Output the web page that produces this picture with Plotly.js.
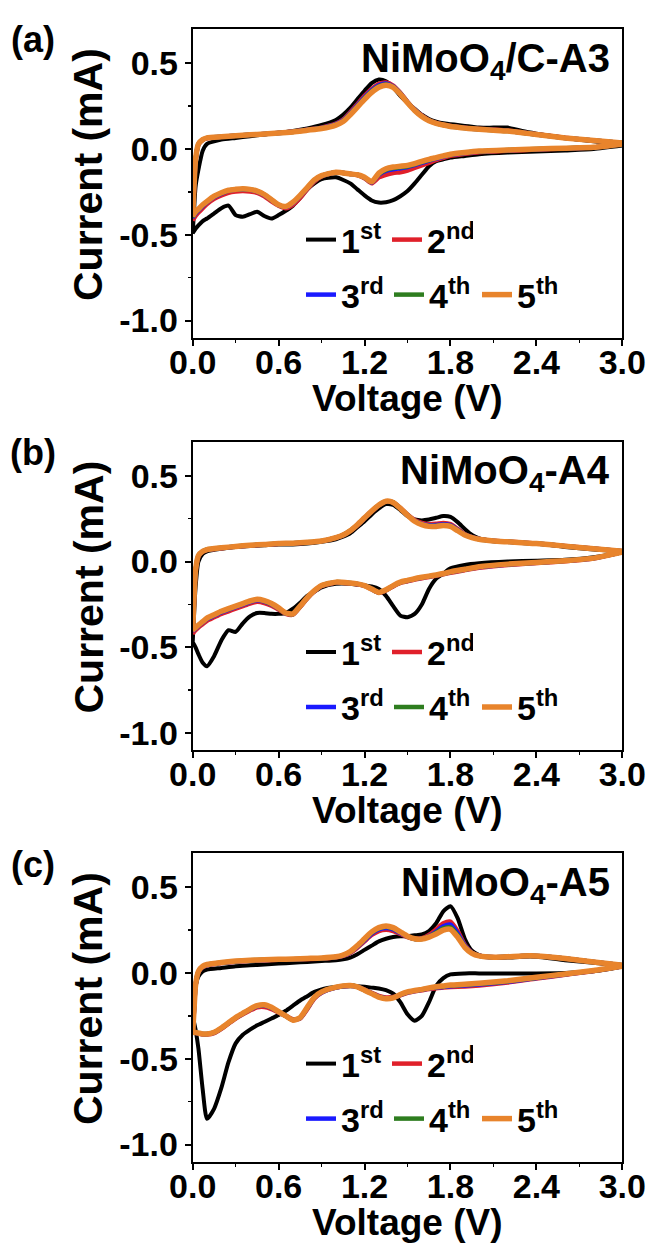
<!DOCTYPE html>
<html>
<head>
<meta charset="utf-8">
<script src="https://cdn.plot.ly/plotly-3.0.1.min.js"></script>
<style>html,body{margin:0;padding:0;background:#fff;}#chart{width:651px;height:1245px;}</style>
</head>
<body>
<div id="chart"></div>
<script>
// ---------- DATA ----------
// Voltage grids (V): cathodic sweep 3.0 -> 0 and anodic sweep 0 -> 3.0
const VC = [3.0, 2.8, 2.6, 2.4, 2.2, 2.0, 1.9, 1.8, 1.75, 1.7, 1.65, 1.6, 1.55, 1.5, 1.45, 1.4, 1.35, 1.3, 1.25, 1.2, 1.15, 1.1, 1.0, 0.9, 0.85, 0.8, 0.75, 0.7, 0.65, 0.6, 0.55, 0.5, 0.45, 0.4, 0.35, 0.3, 0.25, 0.2, 0.15, 0.1, 0.07, 0.04, 0.02, 0.0];
const VA = [0.0, 0.01, 0.02, 0.04, 0.07, 0.1, 0.2, 0.3, 0.4, 0.5, 0.6, 0.7, 0.8, 0.9, 1.0, 1.05, 1.1, 1.15, 1.2, 1.25, 1.3, 1.35, 1.4, 1.45, 1.5, 1.55, 1.6, 1.65, 1.7, 1.75, 1.8, 1.85, 1.9, 1.95, 2.0, 2.1, 2.2, 2.3, 2.4, 2.6, 2.8, 3.0];

// Panel (a) NiMoO4/C-A3 — current (mA)
const A1c = [0.02, 0.0, -0.008, -0.015, -0.02, -0.03, -0.04, -0.05, -0.06, -0.07, -0.1, -0.15, -0.2, -0.245, -0.275, -0.298, -0.31, -0.312, -0.3, -0.27, -0.235, -0.2, -0.165, -0.175, -0.2, -0.235, -0.285, -0.33, -0.36, -0.385, -0.405, -0.39, -0.365, -0.38, -0.395, -0.385, -0.33, -0.345, -0.375, -0.405, -0.42, -0.445, -0.465, -0.49];
const A2c = [0.03, 0.01, 0.003, -0.003, -0.01, -0.018, -0.028, -0.04, -0.052, -0.065, -0.08, -0.095, -0.11, -0.125, -0.135, -0.14, -0.15, -0.165, -0.2, -0.17, -0.152, -0.145, -0.135, -0.16, -0.19, -0.235, -0.285, -0.325, -0.345, -0.33, -0.305, -0.275, -0.255, -0.248, -0.245, -0.248, -0.255, -0.27, -0.29, -0.32, -0.345, -0.37, -0.39, -0.415];
const A3c = [0.03, 0.01, 0.004, -0.001, -0.007, -0.014, -0.023, -0.034, -0.045, -0.056, -0.068, -0.08, -0.093, -0.105, -0.112, -0.118, -0.128, -0.15, -0.195, -0.167, -0.15, -0.145, -0.135, -0.157, -0.183, -0.228, -0.275, -0.315, -0.338, -0.327, -0.298, -0.268, -0.248, -0.238, -0.235, -0.238, -0.244, -0.26, -0.28, -0.31, -0.332, -0.357, -0.375, -0.4];
const A4c = [0.03, 0.01, 0.005, 0.0, -0.006, -0.013, -0.021, -0.032, -0.042, -0.053, -0.064, -0.076, -0.089, -0.1, -0.106, -0.111, -0.121, -0.145, -0.192, -0.166, -0.15, -0.145, -0.135, -0.156, -0.181, -0.226, -0.272, -0.312, -0.336, -0.326, -0.296, -0.266, -0.246, -0.236, -0.233, -0.236, -0.242, -0.257, -0.277, -0.307, -0.328, -0.353, -0.37, -0.395];
const A5c = [0.03, 0.01, 0.005, 0.0, -0.005, -0.012, -0.02, -0.03, -0.04, -0.05, -0.06, -0.072, -0.085, -0.095, -0.1, -0.105, -0.115, -0.14, -0.19, -0.165, -0.15, -0.145, -0.135, -0.155, -0.18, -0.225, -0.27, -0.31, -0.335, -0.325, -0.295, -0.265, -0.245, -0.235, -0.232, -0.235, -0.24, -0.255, -0.275, -0.305, -0.325, -0.35, -0.365, -0.39];
const A1a = [-0.49, -0.35, -0.22, -0.12, -0.01, 0.03, 0.055, 0.065, 0.075, 0.085, 0.095, 0.105, 0.12, 0.14, 0.17, 0.2, 0.24, 0.29, 0.34, 0.385, 0.405, 0.395, 0.36, 0.31, 0.27, 0.235, 0.2, 0.175, 0.16, 0.15, 0.145, 0.14, 0.135, 0.13, 0.125, 0.125, 0.125, 0.105, 0.09, 0.065, 0.045, 0.025];
const A2a = [-0.415, -0.22, -0.07, 0.025, 0.053, 0.063, 0.071, 0.077, 0.083, 0.088, 0.094, 0.102, 0.113, 0.125, 0.148, 0.172, 0.215, 0.262, 0.31, 0.35, 0.38, 0.388, 0.37, 0.328, 0.275, 0.23, 0.195, 0.168, 0.152, 0.142, 0.134, 0.129, 0.124, 0.12, 0.117, 0.113, 0.108, 0.097, 0.086, 0.066, 0.05, 0.035];
const A3a = [-0.4, -0.21, -0.065, 0.028, 0.054, 0.064, 0.071, 0.077, 0.083, 0.088, 0.093, 0.101, 0.112, 0.123, 0.145, 0.167, 0.208, 0.255, 0.302, 0.343, 0.372, 0.382, 0.366, 0.325, 0.273, 0.228, 0.193, 0.167, 0.151, 0.141, 0.133, 0.128, 0.123, 0.119, 0.116, 0.111, 0.106, 0.096, 0.085, 0.065, 0.05, 0.035];
const A4a = [-0.395, -0.205, -0.062, 0.029, 0.055, 0.065, 0.072, 0.078, 0.083, 0.088, 0.093, 0.1, 0.111, 0.121, 0.142, 0.163, 0.204, 0.25, 0.296, 0.337, 0.366, 0.377, 0.363, 0.322, 0.271, 0.226, 0.191, 0.166, 0.15, 0.14, 0.132, 0.127, 0.122, 0.118, 0.115, 0.11, 0.105, 0.095, 0.085, 0.065, 0.05, 0.035];
const A5a = [-0.39, -0.2, -0.06, 0.03, 0.055, 0.065, 0.072, 0.078, 0.083, 0.088, 0.093, 0.1, 0.11, 0.12, 0.14, 0.16, 0.2, 0.245, 0.29, 0.33, 0.36, 0.372, 0.36, 0.32, 0.27, 0.225, 0.19, 0.165, 0.15, 0.14, 0.132, 0.127, 0.122, 0.118, 0.115, 0.11, 0.105, 0.095, 0.085, 0.065, 0.05, 0.035];

// Panel (b) NiMoO4-A4
const B1c = [0.055, 0.025, 0.01, 0.005, 0.0, -0.01, -0.02, -0.04, -0.07, -0.1, -0.16, -0.25, -0.305, -0.325, -0.315, -0.26, -0.2, -0.16, -0.145, -0.14, -0.135, -0.13, -0.13, -0.15, -0.175, -0.2, -0.24, -0.275, -0.3, -0.305, -0.305, -0.3, -0.3, -0.32, -0.36, -0.41, -0.4, -0.46, -0.55, -0.61, -0.59, -0.54, -0.5, -0.47];
const B2c = [0.055, 0.018, 0.002, -0.009, -0.02, -0.036, -0.05, -0.065, -0.075, -0.083, -0.09, -0.097, -0.105, -0.115, -0.125, -0.145, -0.168, -0.182, -0.162, -0.142, -0.132, -0.127, -0.122, -0.143, -0.174, -0.215, -0.265, -0.31, -0.305, -0.28, -0.258, -0.242, -0.235, -0.245, -0.26, -0.275, -0.29, -0.305, -0.325, -0.345, -0.365, -0.385, -0.4, -0.42];
const B3c = [0.055, 0.019, 0.004, -0.007, -0.017, -0.033, -0.047, -0.062, -0.072, -0.08, -0.087, -0.094, -0.102, -0.112, -0.122, -0.142, -0.166, -0.181, -0.161, -0.141, -0.131, -0.126, -0.121, -0.141, -0.172, -0.212, -0.262, -0.307, -0.302, -0.274, -0.25, -0.233, -0.226, -0.236, -0.251, -0.266, -0.281, -0.296, -0.316, -0.336, -0.356, -0.376, -0.391, -0.408];
const B4c = [0.055, 0.02, 0.005, -0.006, -0.016, -0.031, -0.046, -0.061, -0.071, -0.079, -0.086, -0.093, -0.101, -0.111, -0.121, -0.141, -0.165, -0.18, -0.16, -0.14, -0.13, -0.125, -0.12, -0.14, -0.171, -0.211, -0.261, -0.306, -0.301, -0.272, -0.247, -0.23, -0.222, -0.232, -0.247, -0.262, -0.277, -0.292, -0.312, -0.332, -0.352, -0.372, -0.387, -0.403];
const B5c = [0.055, 0.02, 0.005, -0.005, -0.015, -0.03, -0.045, -0.06, -0.07, -0.078, -0.085, -0.092, -0.1, -0.11, -0.12, -0.14, -0.165, -0.18, -0.16, -0.14, -0.13, -0.125, -0.12, -0.14, -0.17, -0.21, -0.26, -0.305, -0.3, -0.27, -0.245, -0.228, -0.22, -0.23, -0.245, -0.26, -0.275, -0.29, -0.31, -0.33, -0.35, -0.37, -0.385, -0.4];
const B1a = [-0.47, -0.3, -0.15, 0.0, 0.045, 0.06, 0.075, 0.085, 0.09, 0.095, 0.1, 0.1, 0.105, 0.115, 0.13, 0.145, 0.165, 0.2, 0.235, 0.275, 0.31, 0.335, 0.33, 0.3, 0.265, 0.245, 0.24, 0.245, 0.255, 0.265, 0.26, 0.23, 0.19, 0.155, 0.135, 0.12, 0.115, 0.11, 0.105, 0.085, 0.07, 0.055];
const B2a = [-0.42, -0.22, -0.06, 0.03, 0.058, 0.068, 0.078, 0.087, 0.094, 0.099, 0.104, 0.106, 0.111, 0.119, 0.138, 0.153, 0.178, 0.212, 0.252, 0.292, 0.327, 0.35, 0.344, 0.312, 0.274, 0.242, 0.225, 0.218, 0.22, 0.225, 0.218, 0.19, 0.16, 0.143, 0.132, 0.121, 0.116, 0.111, 0.106, 0.091, 0.076, 0.06];
const B3a = [-0.41, -0.21, -0.055, 0.032, 0.059, 0.069, 0.079, 0.087, 0.094, 0.099, 0.104, 0.106, 0.111, 0.119, 0.139, 0.154, 0.179, 0.213, 0.253, 0.293, 0.328, 0.351, 0.344, 0.311, 0.272, 0.239, 0.22, 0.212, 0.213, 0.218, 0.212, 0.186, 0.158, 0.142, 0.131, 0.12, 0.115, 0.11, 0.105, 0.09, 0.075, 0.06];
const B4a = [-0.405, -0.205, -0.052, 0.034, 0.06, 0.07, 0.08, 0.088, 0.095, 0.1, 0.105, 0.107, 0.112, 0.12, 0.14, 0.155, 0.18, 0.214, 0.254, 0.294, 0.329, 0.352, 0.345, 0.31, 0.271, 0.237, 0.217, 0.208, 0.208, 0.213, 0.208, 0.183, 0.156, 0.141, 0.13, 0.12, 0.115, 0.11, 0.105, 0.09, 0.075, 0.06];
const B5a = [-0.4, -0.2, -0.05, 0.035, 0.06, 0.07, 0.08, 0.088, 0.095, 0.1, 0.105, 0.107, 0.112, 0.12, 0.14, 0.155, 0.18, 0.215, 0.255, 0.295, 0.33, 0.352, 0.345, 0.31, 0.27, 0.235, 0.215, 0.205, 0.205, 0.21, 0.205, 0.18, 0.155, 0.14, 0.13, 0.12, 0.115, 0.11, 0.105, 0.09, 0.075, 0.06];

// Panel (c) NiMoO4-A5
const C1c = [0.04, 0.01, 0.0, -0.002, -0.002, -0.002, -0.002, -0.008, -0.03, -0.075, -0.17, -0.25, -0.278, -0.24, -0.17, -0.12, -0.1, -0.09, -0.085, -0.08, -0.077, -0.077, -0.082, -0.095, -0.11, -0.135, -0.16, -0.19, -0.22, -0.245, -0.265, -0.285, -0.305, -0.33, -0.36, -0.41, -0.52, -0.67, -0.79, -0.85, -0.68, -0.44, -0.33, -0.25];
const C2c = [0.04, 0.012, -0.01, -0.032, -0.055, -0.072, -0.078, -0.082, -0.085, -0.088, -0.093, -0.1, -0.107, -0.115, -0.13, -0.14, -0.142, -0.133, -0.115, -0.097, -0.08, -0.074, -0.085, -0.115, -0.148, -0.21, -0.265, -0.27, -0.25, -0.23, -0.21, -0.198, -0.2, -0.218, -0.24, -0.265, -0.295, -0.325, -0.35, -0.358, -0.358, -0.352, -0.349, -0.347];
const C3c = [0.04, 0.013, -0.008, -0.029, -0.051, -0.067, -0.072, -0.077, -0.081, -0.085, -0.09, -0.098, -0.105, -0.113, -0.128, -0.143, -0.147, -0.137, -0.118, -0.099, -0.08, -0.074, -0.084, -0.113, -0.144, -0.205, -0.263, -0.273, -0.25, -0.227, -0.204, -0.19, -0.194, -0.213, -0.237, -0.262, -0.292, -0.322, -0.347, -0.356, -0.356, -0.351, -0.348, -0.346];
const C4c = [0.04, 0.014, -0.006, -0.027, -0.048, -0.063, -0.068, -0.073, -0.078, -0.082, -0.088, -0.096, -0.103, -0.111, -0.126, -0.144, -0.149, -0.139, -0.119, -0.1, -0.08, -0.073, -0.083, -0.111, -0.142, -0.202, -0.261, -0.274, -0.25, -0.226, -0.202, -0.187, -0.192, -0.211, -0.236, -0.261, -0.291, -0.321, -0.346, -0.355, -0.355, -0.35, -0.347, -0.345];
const C5c = [0.04, 0.015, -0.005, -0.025, -0.045, -0.06, -0.065, -0.07, -0.075, -0.08, -0.087, -0.095, -0.102, -0.11, -0.125, -0.145, -0.15, -0.14, -0.12, -0.1, -0.08, -0.073, -0.082, -0.11, -0.14, -0.2, -0.26, -0.275, -0.25, -0.225, -0.2, -0.185, -0.19, -0.21, -0.235, -0.26, -0.29, -0.32, -0.345, -0.355, -0.355, -0.35, -0.347, -0.345];
const C1a = [-0.25, -0.16, -0.08, -0.02, 0.01, 0.02, 0.03, 0.04, 0.045, 0.05, 0.055, 0.06, 0.065, 0.07, 0.075, 0.08, 0.09, 0.11, 0.135, 0.16, 0.185, 0.2, 0.21, 0.215, 0.215, 0.22, 0.225, 0.245, 0.29, 0.36, 0.39, 0.32, 0.2, 0.13, 0.105, 0.09, 0.09, 0.095, 0.095, 0.075, 0.06, 0.04];
const C2a = [-0.347, -0.21, -0.075, 0.005, 0.035, 0.045, 0.058, 0.066, 0.071, 0.074, 0.077, 0.079, 0.082, 0.085, 0.092, 0.1, 0.117, 0.148, 0.185, 0.222, 0.245, 0.252, 0.245, 0.228, 0.21, 0.2, 0.203, 0.222, 0.255, 0.29, 0.3, 0.245, 0.165, 0.12, 0.102, 0.093, 0.095, 0.1, 0.1, 0.085, 0.065, 0.045];
const C3a = [-0.346, -0.205, -0.072, 0.007, 0.037, 0.047, 0.06, 0.068, 0.073, 0.076, 0.078, 0.08, 0.083, 0.086, 0.093, 0.102, 0.12, 0.153, 0.191, 0.23, 0.254, 0.263, 0.255, 0.233, 0.212, 0.199, 0.2, 0.215, 0.242, 0.272, 0.282, 0.232, 0.16, 0.118, 0.101, 0.092, 0.095, 0.1, 0.1, 0.085, 0.065, 0.045];
const C4a = [-0.345, -0.2, -0.07, 0.009, 0.039, 0.049, 0.061, 0.069, 0.074, 0.077, 0.079, 0.081, 0.084, 0.087, 0.094, 0.104, 0.123, 0.157, 0.196, 0.235, 0.26, 0.27, 0.26, 0.237, 0.213, 0.199, 0.199, 0.212, 0.235, 0.26, 0.266, 0.22, 0.155, 0.116, 0.1, 0.092, 0.095, 0.1, 0.1, 0.085, 0.065, 0.045];
const C5a = [-0.345, -0.2, -0.07, 0.01, 0.04, 0.05, 0.062, 0.07, 0.075, 0.078, 0.08, 0.082, 0.085, 0.088, 0.095, 0.105, 0.125, 0.16, 0.2, 0.24, 0.265, 0.275, 0.265, 0.24, 0.215, 0.2, 0.198, 0.21, 0.228, 0.25, 0.255, 0.21, 0.15, 0.115, 0.1, 0.092, 0.095, 0.1, 0.1, 0.085, 0.065, 0.045];

const cycleNames = ['1<sup>st</sup>', '2<sup>nd</sup>', '3<sup>rd</sup>', '4<sup>th</sup>', '5<sup>th</sup>'];
const cycleColors = ['#000000', '#e0202a', '#1a1aff', '#2e7d1f', '#e8842c'];
const panelLetters = ['(a)', '(b)', '(c)'];
const sampleNames = ['NiMoO<sub>4</sub>/C-A3', 'NiMoO<sub>4</sub>-A4', 'NiMoO<sub>4</sub>-A5'];
const xTickVals = [0, 0.6, 1.2, 1.8, 2.4, 3.0];
const xTickText = ['0.0', '0.6', '1.2', '1.8', '2.4', '3.0'];
const yTickVals = [0.5, 0.0, -0.5, -1.0];
const yTickText = ['0.5', '0.0', '-0.5', '-1.0'];
const xTitle = 'Voltage (V)';
const yTitle = 'Current (mA)';

const panelCath = [[A1c, A2c, A3c, A4c, A5c], [B1c, B2c, B3c, B4c, B5c], [C1c, C2c, C3c, C4c, C5c]];
const panelAnod = [[A1a, A2a, A3a, A4a, A5a], [B1a, B2a, B3a, B4a, B5a], [C1a, C2a, C3a, C4a, C5a]];

// ---------- LAYOUT GEOMETRY (pixels) ----------
const W = 651, H = 1245;
const plotLeft = 192.7, plotRight = 622.3;
const panelTops = [29, 441.5, 853];
const plotH = 308.7;
const FONT = 'Liberation Sans, Arial, sans-serif';
const px2x = p => p / W;
const py2y = p => 1 - p / H;

const traces = [];
const layout = {
  width: W, height: H,
  margin: {l: 0, r: 0, t: 0, b: 0},
  paper_bgcolor: '#ffffff', plot_bgcolor: '#ffffff',
  font: {family: FONT, color: '#000', weight: 'bold'},
  annotations: [],
  showlegend: true
};
const lineWidths = [4, 4.5, 4.5, 4.5, 5.5];

for (let p = 0; p < 3; p++) {
  const sfx = p === 0 ? '' : String(p + 1);
  const top = panelTops[p];
  const dom = [py2y(top + plotH), py2y(top)];
  const legA = p === 0 ? 'legend' : 'legend' + (2 * p + 1);
  const legB = 'legend' + (2 * p + 2);
  for (let c = 0; c < 5; c++) {
    traces.push({
      type: 'scatter', mode: 'lines',
      x: VC.concat(VA), y: panelCath[p][c].concat(panelAnod[p][c]),
      xaxis: 'x' + sfx, yaxis: 'y' + sfx,
      name: cycleNames[c],
      legend: c < 2 ? legA : legB,
      line: {color: cycleColors[c], width: lineWidths[c], shape: 'spline', smoothing: 0.6},
      hoverinfo: 'skip'
    });
  }
  const axCommon = {
    showline: true, linecolor: '#000', linewidth: 2, mirror: true,
    ticks: 'outside', ticklen: 6, tickwidth: 2, tickcolor: '#000',
    showgrid: false, zeroline: false, fixedrange: true,
    tickfont: {family: FONT, size: 34, color: '#000', weight: 'bold'}
  };
  layout['xaxis' + sfx] = Object.assign({}, axCommon, {
    domain: [px2x(plotLeft), px2x(plotRight)], anchor: 'y' + sfx, range: [0, 3],
    tickmode: 'array', tickvals: xTickVals, ticktext: xTickText, ticklabelstandoff: -13,
    minor: {tickmode: 'linear', tick0: 0, dtick: 0.3, ticks: 'outside', ticklen: 3, tickwidth: 1.5, tickcolor: '#000'}
  });
  layout['yaxis' + sfx] = Object.assign({}, axCommon, {
    domain: dom, anchor: 'x' + sfx, range: [-1.1, 0.7],
    tickmode: 'array', tickvals: yTickVals, ticktext: yTickText,
    minor: {tickmode: 'linear', tick0: 0, dtick: 0.25, ticks: 'outside', ticklen: 3, tickwidth: 1.5, tickcolor: '#000'}
  });
  const legCommon = {
    orientation: 'h', xanchor: 'left', yanchor: 'middle',
    bgcolor: 'rgba(0,0,0,0)', borderwidth: 0,
    font: {family: FONT, size: 34, color: '#000', weight: 'bold'},
    entrywidth: 41, entrywidthmode: 'pixels', itemwidth: 30, traceorder: 'normal',
    itemclick: false, itemdoubleclick: false
  };
  layout[legA] = Object.assign({}, legCommon, {x: px2x(301), y: py2y(top + 211)});
  layout[legB] = Object.assign({}, legCommon, {x: px2x(301), y: py2y(top + 266), entrywidth: 43});

  layout.annotations.push(
    {text: panelLetters[p], xref: 'paper', yref: 'paper', x: px2x(33), y: py2y(top + 11),
     xanchor: 'center', yanchor: 'middle', showarrow: false,
     font: {family: FONT, size: 36, color: '#000', weight: 'bold'}},
    {text: sampleNames[p], xref: 'paper', yref: 'paper', x: px2x(612), y: py2y(top + 32),
     xanchor: 'right', yanchor: 'middle', showarrow: false,
     font: {family: FONT, size: 40, color: '#000', weight: 'bold'}},
    {text: xTitle, xref: 'paper', yref: 'paper', x: px2x((plotLeft + plotRight) / 2), y: py2y(top + 369),
     xanchor: 'center', yanchor: 'middle', showarrow: false,
     font: {family: FONT, size: 37, color: '#000', weight: 'bold'}},
    {text: yTitle, xref: 'paper', yref: 'paper', x: px2x(88), y: py2y(top + 146),
     xanchor: 'center', yanchor: 'middle', showarrow: false, textangle: -90,
     font: {family: FONT, size: 41, color: '#000', weight: 'bold'}}
  );
}

Plotly.newPlot('chart', traces, layout, {staticPlot: true, displayModeBar: false});
</script>
</body>
</html>
